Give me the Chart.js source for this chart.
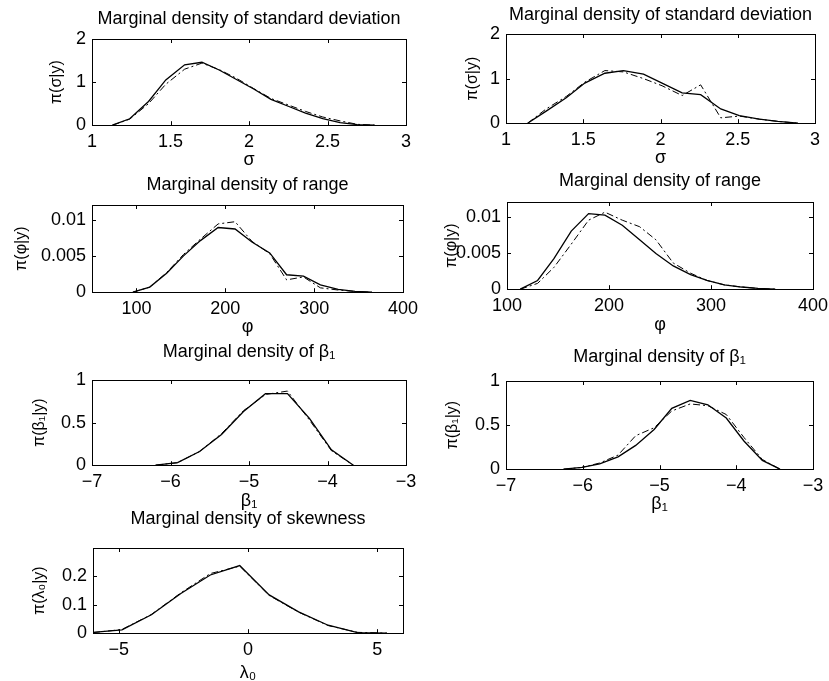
<!DOCTYPE html>
<html>
<head>
<meta charset="utf-8">
<script src="https://cdn.jsdelivr.net/npm/chart.js@4.4.1/dist/chart.umd.min.js"></script>
<style>
  html, body { margin: 0; padding: 0; background: #fff; }
  #page { position: relative; width: 829px; height: 681px; overflow: hidden; background: #fff; }
  #page canvas { position: absolute; }
</style>
</head>
<body>
<div id="page"></div>
<script>
// standard deviation, left and right runs
const sdA_x = [1.13, 1.24, 1.36, 1.47, 1.59, 1.70, 1.81, 1.92, 2.03, 2.14, 2.25, 2.36, 2.47, 2.58, 2.69, 2.80]
const sdA_solid = [0, 0.15, 0.55, 1.05, 1.40, 1.46, 1.28, 1.06, 0.84, 0.60, 0.44, 0.28, 0.15, 0.06, 0.015, 0]
const sdA_dash = [0, 0.14, 0.50, 0.95, 1.30, 1.44, 1.29, 1.09, 0.85, 0.62, 0.47, 0.32, 0.19, 0.10, 0.02, 0]

const sdB_x = [1.14, 1.26, 1.39, 1.51, 1.64, 1.76, 1.89, 2.01, 2.14, 2.26, 2.39, 2.51, 2.64, 2.76, 2.89]
const sdB_solid = [0, 0.27, 0.57, 0.90, 1.12, 1.18, 1.10, 0.90, 0.68, 0.64, 0.32, 0.17, 0.09, 0.04, 0]
const sdB_dash = [0, 0.32, 0.60, 0.92, 1.18, 1.15, 1.00, 0.84, 0.62, 0.86, 0.12, 0.16, 0.09, 0.04, 0]

// range
const rgA_x = [96, 115, 134, 153, 172, 192, 211, 230, 250, 269, 288, 307, 327, 346, 365]
const rgA_solid = [0, 0.0007, 0.0026, 0.0050, 0.0071, 0.0089, 0.0087, 0.0069, 0.0054, 0.0024, 0.0022, 0.0010, 0.0004, 0.0001, 0]
const rgA_dash = [0, 0.0007, 0.0027, 0.0052, 0.0073, 0.0094, 0.0097, 0.0070, 0.0053, 0.0017, 0.0021, 0.0006, 0.0003, 0.0001, 0]

const rgB_x = [113, 130, 146, 163, 180, 196, 213, 230, 246, 263, 280, 296, 313, 330, 346, 363]
const rgB_solid = [0, 0.0012, 0.0042, 0.0080, 0.0104, 0.0102, 0.0088, 0.0068, 0.0049, 0.0032, 0.0020, 0.0012, 0.0006, 0.0003, 0.0001, 0]
const rgB_dash = [0, 0.0008, 0.0030, 0.0062, 0.0095, 0.0106, 0.0095, 0.0086, 0.0068, 0.0036, 0.0022, 0.0012, 0.0006, 0.0003, 0.0001, 0]

// beta_1
const btA_x = [-6.19, -5.91, -5.63, -5.35, -5.07, -4.79, -4.51, -4.23, -3.95, -3.67]
const btA_solid = [0, 0.03, 0.16, 0.36, 0.63, 0.84, 0.84, 0.55, 0.18, 0]
const btA_dash = [0, 0.03, 0.16, 0.37, 0.64, 0.83, 0.87, 0.53, 0.17, 0]

const btB_x = [-6.25, -6.01, -5.78, -5.54, -5.31, -5.07, -4.84, -4.60, -4.37, -4.13, -3.90, -3.66, -3.43]
const btB_solid = [0, 0.02, 0.06, 0.14, 0.27, 0.45, 0.69, 0.78, 0.73, 0.58, 0.32, 0.10, 0]
const btB_dash = [0, 0.02, 0.07, 0.16, 0.38, 0.47, 0.66, 0.74, 0.72, 0.62, 0.36, 0.11, 0]

// skewness
const skA_x = [-6.0, -4.88, -3.74, -2.60, -1.46, -0.32, 0.82, 1.96, 3.10, 4.24, 5.38]
const skA_solid = [0.003, 0.012, 0.065, 0.14, 0.205, 0.238, 0.135, 0.075, 0.028, 0.002, 0]
const skA_dash = [0.002, 0.013, 0.066, 0.142, 0.21, 0.236, 0.133, 0.074, 0.027, 0.003, 0]

// tick labels
const sdTicksX = [1, 1.5, 2, 2.5, 3]
const sdTicksY = [0, 1, 2]
const rgTicksXA = [100, 200, 300, 400]
const rgTicksXB = [100, 200, 300, 400]
const rgTicksY = [0, 0.005, 0.01]
const btTicksX = [-7, -6, -5, -4, -3]
const btTicksY = [0, 0.5, 1]
const skTicksX = [-5, 0, 5]
const skTicksY = [0, 0.1, 0.2]

const panels = [
  {title: 'Marginal density of standard deviation', xLabel: 'σ', yLabel: 'π(σ|y)',
    xs: sdA_x, solid: sdA_solid, dash: sdA_dash, xMin: 1, xMax: 3, yMin: 0, yMax: 2, xTicks: sdTicksX, yTicks: sdTicksY},
  {title: 'Marginal density of standard deviation', xLabel: 'σ', yLabel: 'π(σ|y)',
    xs: sdB_x, solid: sdB_solid, dash: sdB_dash, xMin: 1, xMax: 3, yMin: 0, yMax: 2, xTicks: sdTicksX, yTicks: sdTicksY},
  {title: 'Marginal density of range', xLabel: 'φ', yLabel: 'π(φ|y)',
    xs: rgA_x, solid: rgA_solid, dash: rgA_dash, xMin: 50, xMax: 400, yMin: 0, yMax: 0.012, xTicks: rgTicksXA, yTicks: rgTicksY},
  {title: 'Marginal density of range', xLabel: 'φ', yLabel: 'π(φ|y)',
    xs: rgB_x, solid: rgB_solid, dash: rgB_dash, xMin: 100, xMax: 400, yMin: 0, yMax: 0.012, xTicks: rgTicksXB, yTicks: rgTicksY},
  {title: 'Marginal density of β₁', xLabel: 'β₁', yLabel: 'π(β₁|y)',
    xs: btA_x, solid: btA_solid, dash: btA_dash, xMin: -7, xMax: -3, yMin: 0, yMax: 1, xTicks: btTicksX, yTicks: btTicksY},
  {title: 'Marginal density of β₁', xLabel: 'β₁', yLabel: 'π(β₁|y)',
    xs: btB_x, solid: btB_solid, dash: btB_dash, xMin: -7, xMax: -3, yMin: 0, yMax: 1, xTicks: btTicksX, yTicks: btTicksY},
  {title: 'Marginal density of skewness', xLabel: 'λ₀', yLabel: 'π(λ₀|y)',
    xs: skA_x, solid: skA_solid, dash: skA_dash, xMin: -6, xMax: 6, yMin: 0, yMax: 0.3, xTicks: skTicksX, yTicks: skTicksY},
]

// where each plot box sits on the page: left, top, width, height,
// centre of y label, title and x label distances from the box
const boxes = [
  {l: 92, t: 39, w: 314, h: 86, ycx: 57, titleD: 20, xlabD: 35},
  {l: 506, t: 34, w: 309, h: 89, ycx: 473, titleD: 19, xlabD: 35},
  {l: 92, t: 205, w: 311, h: 87, ycx: 22, titleD: 20, xlabD: 35},
  {l: 507, t: 202, w: 306, h: 87, ycx: 452, titleD: 21, xlabD: 36},
  {l: 92, t: 380, w: 314, h: 85, ycx: 40, titleD: 28, xlabD: 36},
  {l: 506, t: 381, w: 307, h: 88, ycx: 453, titleD: 24, xlabD: 35},
  {l: 93, t: 548, w: 310, h: 85, ycx: 40, titleD: 29, xlabD: 40},
]

const FONT = '"Liberation Sans", Arial, Helvetica, sans-serif'
const TITLE_SIZE = 18
const TICK_SIZE = 18
const YLAB_SIZE = 16

const minusSign = v => String(v).replace('-', '\u2212')

/** Matlab-like box round the plot area with inward ticks on all sides. */
const boxPlugin = {
  id: 'box',
  afterDatasetsDraw(chart) {
    const {ctx, chartArea: a, scales: {x, y}} = chart
    const len = 4
    ctx.save()
    ctx.strokeStyle = '#000'
    ctx.lineWidth = 1
    ctx.beginPath()
    for (const t of x.ticks) {
      const px = Math.round(x.getPixelForValue(t.value)) + 0.5
      ctx.moveTo(px, a.bottom); ctx.lineTo(px, a.bottom - len)
      ctx.moveTo(px, a.top); ctx.lineTo(px, a.top + len)
    }
    for (const t of y.ticks) {
      const py = Math.round(y.getPixelForValue(t.value)) + 0.5
      ctx.moveTo(a.left, py); ctx.lineTo(a.left + len, py)
      ctx.moveTo(a.right, py); ctx.lineTo(a.right - len, py)
    }
    ctx.stroke()
    ctx.strokeRect(Math.round(a.left) + 0.5, Math.round(a.top) + 0.5,
        Math.round(a.width), Math.round(a.height))
    ctx.restore()
  },
}

function makePanel(p, box) {
  const page = document.getElementById('page')
  const titleLh = TITLE_SIZE * 1.2
  const yLh = YLAB_SIZE * 1.2
  const xLh = TICK_SIZE * 1.2

  const canvasLeft = Math.round(box.ycx - yLh / 2)
  const yAxisW = box.l - canvasLeft
  const canvasTop = Math.round(box.t - box.titleD - titleLh / 2 - 2)
  const titlePadBottom = box.t - canvasTop - 2 - titleLh
  const xAxisH = box.xlabD + xLh / 2
  const rightPad = 24
  const width = Math.round(yAxisW + box.w + rightPad)
  const height = Math.round(box.t - canvasTop + box.h + xAxisH)

  const canvas = document.createElement('canvas')
  canvas.width = width
  canvas.height = height
  canvas.style.left = canvasLeft + 'px'
  canvas.style.top = canvasTop + 'px'
  canvas.style.width = width + 'px'
  canvas.style.height = height + 'px'
  page.appendChild(canvas)

  const toPoints = ys => p.xs.map((x, i) => ({x, y: ys[i]}))
  const tickFont = {family: FONT, size: TICK_SIZE}

  new Chart(canvas, {
    type: 'line',
    data: {
      datasets: [
        {data: toPoints(p.dash), borderColor: '#000', borderWidth: 1,
          borderDash: [7, 3, 2, 3], pointRadius: 0, tension: 0, fill: false},
        {data: toPoints(p.solid), borderColor: '#000', borderWidth: 1.3,
          pointRadius: 0, tension: 0, fill: false},
      ],
    },
    options: {
      responsive: false,
      animation: false,
      devicePixelRatio: 1,
      layout: {padding: {left: 0, right: rightPad, top: 0, bottom: 0}},
      plugins: {
        legend: {display: false},
        tooltip: {enabled: false},
        title: {
          display: true,
          text: p.title,
          fullSize: false,
          color: '#000',
          font: {family: FONT, size: TITLE_SIZE, weight: 'normal', lineHeight: 1.2},
          padding: {top: 2, bottom: titlePadBottom},
        },
      },
      scales: {
        x: {
          type: 'linear',
          min: p.xMin,
          max: p.xMax,
          afterBuildTicks: s => { s.ticks = p.xTicks.map(value => ({value})) },
          afterFit: s => { s.height = xAxisH },
          grid: {display: false, drawTicks: false},
          border: {display: false},
          ticks: {autoSkip: false, maxRotation: 0, padding: 6, color: '#000',
            font: tickFont, callback: v => minusSign(v)},
          title: {display: true, text: p.xLabel, color: '#000', padding: 0,
            font: {family: FONT, size: TICK_SIZE, lineHeight: 1.2}},
        },
        y: {
          type: 'linear',
          min: p.yMin,
          max: p.yMax,
          afterBuildTicks: s => { s.ticks = p.yTicks.map(value => ({value})) },
          afterFit: s => { s.width = yAxisW },
          grid: {display: false, drawTicks: false},
          border: {display: false},
          ticks: {autoSkip: false, padding: 6, color: '#000',
            font: tickFont, callback: v => minusSign(v)},
          title: {display: true, text: p.yLabel, color: '#000', padding: 0,
            font: {family: FONT, size: YLAB_SIZE, lineHeight: 1.2}},
        },
      },
    },
    plugins: [boxPlugin],
  })
}

panels.forEach((p, i) => makePanel(p, boxes[i]))
</script>
</body>
</html>
